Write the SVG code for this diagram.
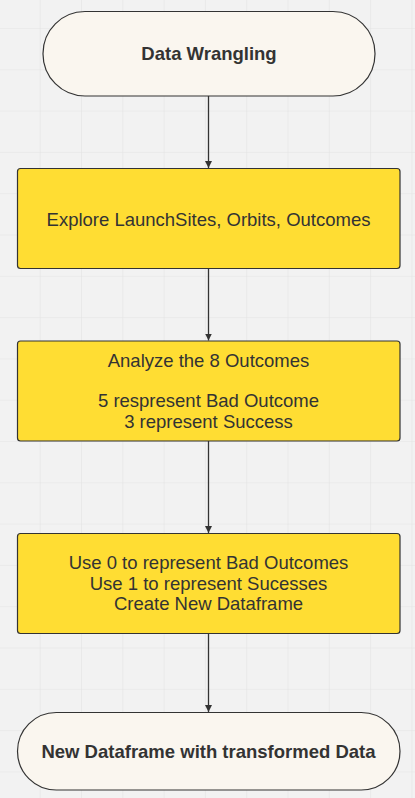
<svg xmlns="http://www.w3.org/2000/svg" width="415" height="798" viewBox="0 0 415 798">
<defs>
<pattern id="grid" x="-0.6" y="-12.3" width="41.3" height="41.3" patternUnits="userSpaceOnUse">
<path d="M 41.3 0 L 41.3 41.3 M 0 41.3 L 41.3 41.3" fill="none" stroke="#e3e3e3" stroke-width="1.2"/>
</pattern>
<marker id="arrow" viewBox="0 0 10 10" refX="10" refY="5" markerWidth="7" markerHeight="7" markerUnits="userSpaceOnUse" orient="auto">
<path d="M0,0 L10,5 L0,10 z" fill="#333"/>
</marker>
<style>
.term{fill:#faf6ef;stroke:#333;stroke-width:1.2}
.proc{fill:#ffdd33;stroke:#333;stroke-width:1.2}
.t{font-family:"Liberation Sans",Arial,sans-serif;font-size:18.5px;fill:#333;text-anchor:middle}
.b{font-weight:bold}
.edge{stroke:#333;stroke-width:1.3;fill:none;marker-end:url(#arrow)}
</style>
</defs>
<rect width="415" height="798" fill="#f2f2f2"/>
<rect width="415" height="798" fill="url(#grid)"/>
<g id="connectors">
<line class="edge" x1="208.5" y1="96" x2="208.5" y2="168"/>
<line class="edge" x1="208.5" y1="269" x2="208.5" y2="340.5"/>
<line class="edge" x1="208.5" y1="441" x2="208.5" y2="533"/>
<line class="edge" x1="208.5" y1="633.5" x2="208.5" y2="712"/>
</g>
<g id="start">
<rect class="term" x="43" y="11.5" width="332" height="84.5" rx="42" ry="42"/>
<text class="t b" x="209" y="60">Data Wrangling</text>
</g>
<g id="explore">
<rect class="proc" x="17.5" y="168.5" width="382.5" height="100" rx="3"/>
<text class="t" x="208.5" y="225.5">Explore LaunchSites, Orbits, Outcomes</text>
</g>
<g id="analyze">
<rect class="proc" x="17.5" y="341" width="382.5" height="100" rx="3"/>
<text class="t" x="208.5" y="366.5">Analyze the 8 Outcomes</text>
<text class="t" x="208.5" y="407">5 respresent Bad Outcome</text>
<text class="t" x="208.5" y="428">3 represent Success</text>
</g>
<g id="encode">
<rect class="proc" x="17.5" y="533.5" width="382.5" height="100" rx="3"/>
<text class="t" x="208.5" y="569">Use 0 to represent Bad Outcomes</text>
<text class="t" x="208.5" y="589.5">Use 1 to represent Sucesses</text>
<text class="t" x="208.5" y="610">Create New Dataframe</text>
</g>
<g id="end">
<rect class="term" x="17.5" y="712.5" width="382.5" height="77.5" rx="38.75" ry="38.75"/>
<text class="t b" x="208.5" y="757.5">New Dataframe with transformed Data</text>
</g>
</svg>
